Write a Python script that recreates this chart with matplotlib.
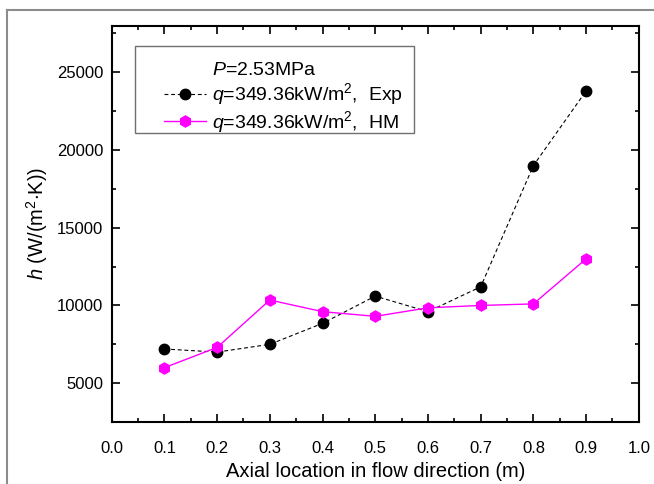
import matplotlib
matplotlib.use('Agg')
import matplotlib.pyplot as plt
from matplotlib.lines import Line2D
from matplotlib.patches import Rectangle
from matplotlib.legend_handler import HandlerLine2D
from matplotlib.ticker import MultipleLocator

plt.rcParams['font.family'] = ['Liberation Sans', 'DejaVu Sans']
plt.rcParams['mathtext.fontset'] = 'custom'
plt.rcParams['mathtext.rm'] = 'Liberation Sans'
plt.rcParams['mathtext.it'] = 'Liberation Sans:italic'

# 数据
x = [0.1, 0.2, 0.3, 0.4, 0.5, 0.6, 0.7, 0.8, 0.9]
h_exp = [7200, 7000, 7500, 8850, 10600, 9600, 11200, 19000, 23800]
h_hm = [6000, 7300, 10350, 9600, 9300, 9850, 10000, 10100, 13000]

fig = plt.figure(figsize=(6.54, 4.84), dpi=100)
ax = fig.add_axes([0.1708, 0.128, 0.806, 0.819])

# 灰色外框（左、上）
fig.add_artist(Line2D([7 / 654, 7 / 654], [0, 1 - 10 / 484], color='#8c8c8c', lw=1.5))
fig.add_artist(Line2D([7 / 654, 1], [1 - 10 / 484, 1 - 10 / 484], color='#8c8c8c', lw=1.5))

ax.plot(x, h_exp, color='black', ls=(0, (3.5, 2.5)), lw=0.8,
        marker='o', ms=7.5, mfc='black', mec='black',
        label=r'$q$=349.36kW/m$^2$,  Exp')
ax.plot(x, h_hm, color='#ff00ff', ls='-', lw=1.0,
        marker='h', ms=8, mfc='#ff00ff', mec='#ff00ff',
        label=r'$q$=349.36kW/m$^2$,  HM')

ax.set_xlim(0, 1.0)
ax.set_ylim(2500, 28000)
ax.xaxis.set_minor_locator(MultipleLocator(0.05))
ax.yaxis.set_minor_locator(MultipleLocator(2500))
ax.set_xticks([i / 10 for i in range(11)])
ax.set_xticklabels(['%.1f' % (i / 10) for i in range(11)])
ax.set_yticks([5000, 10000, 15000, 20000, 25000])

ax.tick_params(which='both', direction='in', top=True, right=True,
               labelsize=12, width=1.2)
ax.tick_params(which='major', length=6)
ax.tick_params(axis='y', which='major', pad=6)
ax.tick_params(axis='x', which='major', pad=14)
ax.tick_params(which='minor', length=3)
for s in ax.spines.values():
    s.set_linewidth(1.5)

ax.set_xlabel('Axial location in flow direction (m)', fontsize=14.5, labelpad=4)
ax.set_ylabel(r'$h$ (W/(m$^2$$\cdot$K))', fontsize=14.5, labelpad=5)

# 图例（第一行为压力说明），外框单独画
blank = Line2D([], [], ls='none', marker=None)
handles, labels = ax.get_legend_handles_labels()
leg = ax.legend([blank] + handles, [r'$P$=2.53MPa'] + labels,
                loc='upper left', bbox_to_anchor=(0.044, 0.926),
                fontsize=14, frameon=False,
                handlelength=3.3, handletextpad=0.3, borderpad=0.35,
                labelspacing=0.1, borderaxespad=0,
                handler_map={Line2D: HandlerLine2D(xpad=1.13)})
ax.add_patch(Rectangle((0.044, 0.729), 0.529, 0.22, transform=ax.transAxes,
                       fill=False, edgecolor='#707070', lw=1.0, zorder=4))

fig.savefig('out.png', dpi=100)
